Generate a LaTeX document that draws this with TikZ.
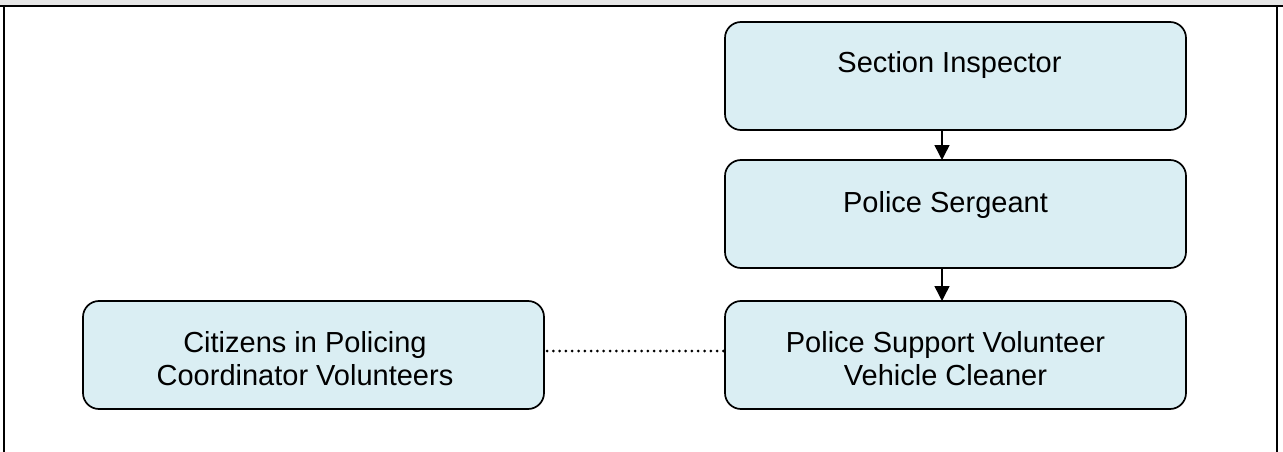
\documentclass[tikz,border=0pt]{standalone}
\usepackage{fontspec}
\setmainfont{Liberation Sans}
\usetikzlibrary{arrows.meta}
\definecolor{boxfill}{HTML}{DAEEF3}
\definecolor{bandgray}{HTML}{E6E6E6}
\tikzset{
  rolebox/.style={draw=black, line width=1.7pt, fill=boxfill, rounded corners=16pt,
    minimum width=461pt, minimum height=108pt, inner sep=0pt, outer sep=0pt},
  roletext/.style={anchor=base, align=center, inner sep=0pt,
    font=\fontsize{29}{33}\selectfont},
  flow/.style={line width=1.5pt, -{Triangle[width=15pt,length=15pt]}},
  dotline/.style={line width=3pt, line cap=round, dash pattern=on 0pt off 6.3pt},
  frame/.style={line width=2.4pt}
}
\begin{document}
\begin{tikzpicture}[x=1pt,y=-1pt]
\useasboundingbox (0,0) rectangle (1283,452);
% frame
\fill[bandgray] (0,0) rectangle (1283,5.3);
\draw[frame] (0,6.3) -- (1283,6.3);
\draw[frame] (4,6.3) -- (4,452);
\draw[frame] (1277.2,6.3) -- (1277.2,452);
% boxes
\node[rolebox] (si) at (955.5,76) {};
\node[rolebox] (ps) at (955.5,214) {};
\node[rolebox] (psv) at (955.5,355) {};
\node[rolebox] (cip) at (313.5,355) {};
% texts
\node[roletext] (tsi) at (949.5,73) {Section Inspector};
\node[roletext] (tps) at (945.5,212) {Police Sergeant};
\node[roletext] (tpsv) at (945.5,385) {Police Support Volunteer\\Vehicle Cleaner};
\node[roletext] (tcip) at (305,385) {Citizens in Policing\\Coordinator Volunteers};
% connectors
\coordinate (a1) at ([xshift=-13.5pt]si.south);
\coordinate (a2) at ([xshift=-13.5pt]ps.north);
\coordinate (b1) at ([xshift=-13.5pt]ps.south);
\coordinate (b2) at ([xshift=-13.5pt]psv.north);
\draw[flow] (a1) -- (a2);
\draw[flow] (b1) -- (b2);
\draw[dotline] ([xshift=3pt,yshift=4pt]cip.east) -- ([yshift=4pt]psv.west);
\end{tikzpicture}
\end{document}
